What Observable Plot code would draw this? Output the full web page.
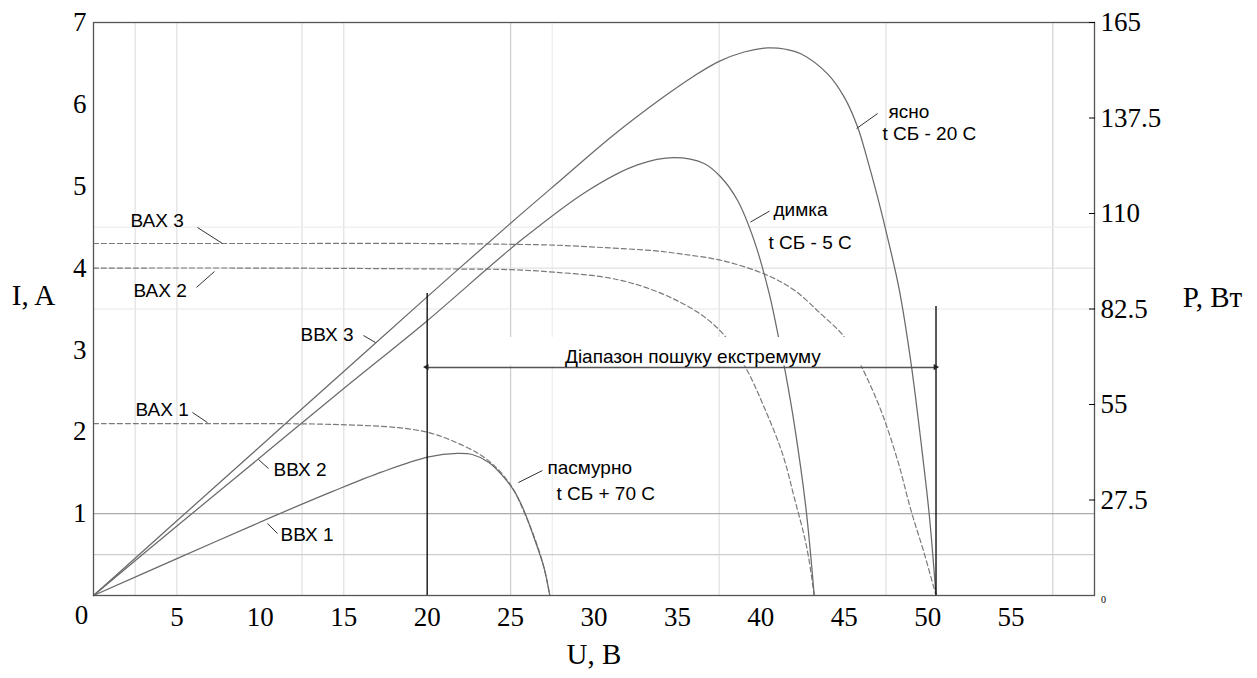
<!DOCTYPE html>
<html><head><meta charset="utf-8">
<script src="https://cdn.jsdelivr.net/npm/d3@7"></script>
<script src="https://cdn.jsdelivr.net/npm/@observablehq/plot@0.6"></script>
<style>body{margin:0;background:#fff} #chart{width:1257px;height:678px}</style>
</head><body><div id="chart"></div>
<script>
// ---- axes ----
const U_MAX = 60, I_MAX = 7, P_MAX = 165;
const xTicks = [0, 5, 10, 15, 20, 25, 30, 35, 40, 45, 50, 55];
const iTicks = [1, 2, 3, 4, 5, 6, 7];
const pTicks = [0, 27.5, 55, 82.5, 110, 137.5, 165];
const gridU = [2.5, 5, 12.5, 15, 25, 27.5, 37.5, 47.5, 57.5];
const gridUColor = ["#e2e2e2", "#e2e2e2", "#e2e2e2", "#e2e2e2", "#cfcfcf", "#eeeeee", "#e2e2e2", "#e2e2e2", "#d6d6d6"];
const gridI = [0.5, 1, 3.5, 4, 4.5];
const gridIColor = ["#cdcdcd", "#ababab", "#e8e8e8", "#e2e2e2", "#ededed"];

// ---- I-V curves (ВАХ), current in A ----
const vax1U = [0, 5, 10, 14.3, 18.3, 20.1, 21.5, 23.1, 24.1, 25.1, 25.85, 26.5, 27.0, 27.35];
const vax1I = [2.1, 2.1, 2.1, 2.09, 2.05, 1.99, 1.89, 1.73, 1.57, 1.32, 1.0, 0.67, 0.34, 0];
const vax2U = [0, 10, 20, 25.1, 27.6, 30.6, 32.7, 34.7, 36.5, 37.8, 39.1, 40.2, 41.3, 42.0, 42.75, 43.2];
const vax2I = [4.0, 4.0, 3.99, 3.98, 3.95, 3.89, 3.79, 3.63, 3.42, 3.18, 2.78, 2.30, 1.73, 1.20, 0.59, 0];
const vax3U = [0, 10, 20, 25.1, 27.6, 30.6, 33.7, 35.3, 37.7, 40.3, 42.0, 43.6, 45.0, 46.0, 47.2, 48.2, 49.0, 49.8, 50.5];
const vax3I = [4.3, 4.3, 4.3, 4.29, 4.28, 4.25, 4.21, 4.17, 4.09, 3.92, 3.73, 3.44, 3.16, 2.81, 2.26, 1.65, 1.04, 0.51, 0];

// ---- P-V curves (ВВХ), power in W ----
const vvx1U = [0, 5, 10.5, 14.3, 17.3, 20.1, 21.8, 22.7, 23.7, 24.5, 25.2, 25.8, 26.4, 27.0, 27.35];
const vvx1P = [0, 10.6, 22.2, 29.9, 35.6, 39.9, 40.9, 40.6, 38.3, 34.6, 30.2, 24.5, 16.7, 8.1, 0];
const vvx2U = [0, 5, 10, 15, 19.9, 25.6, 29.6, 32.6, 34.8, 36.6, 37.6, 38.6, 39.6, 40.5, 41.1, 41.5, 42.0, 42.7, 43.2];
const vvx2P = [0, 20, 39.8, 59.6, 78.7, 102.2, 116.5, 124.0, 126.1, 124.4, 120.5, 113.8, 102.2, 87.0, 73.4, 63.5, 49.5, 25.3, 0];
const vvx3U = [0, 5, 10, 15, 20, 25, 28.1, 31.1, 34.1, 36.0, 37.5, 39.0, 40.4, 41.5, 42.4, 44.0, 45.0, 45.8, 46.4, 47.0, 47.6, 48.3, 49.0, 49.6, 50.1, 50.5];
const vvx3P = [0, 21.5, 43, 64.5, 86, 107.2, 120.0, 132.3, 143.3, 149.6, 153.8, 156.5, 157.7, 157.3, 156.0, 150.2, 143.5, 134.9, 125.3, 114.7, 103.0, 88.0, 67.0, 44.2, 23.0, 0];

// ---- search range ----
const rangeU = [20, 50.5];
const rangeTopI = [3.69, 3.53];
const arrowI = 2.785;
const rangeLabel = "Діапазон пошуку екстремуму";
const rangeLabelPos = {U: 35.93, I: 2.914};
const maskBox = {U1: 20.8, U2: 47.2, I1: 2.805, I2: 3.152};

// ---- annotations (positions in U, I units) ----
const labelText = ["ВАХ 3", "ВАХ 2", "ВВХ 3", "ВАХ 1", "ВВХ 2", "ВВХ 1", "пасмурно", "t СБ + 70 С", "ясно", "t СБ - 20 С", "димка", "t СБ - 5 С"];
const labelU = [2.22, 2.40, 12.41, 2.52, 10.79, 11.21, 27.21, 27.75, 47.65, 47.29, 40.76, 40.46];
const labelI = [4.575, 3.72, 3.18, 2.266, 1.533, 0.745, 1.564, 1.24, 5.913, 5.638, 4.716, 4.306];
const leaderU1 = [6.23, 6.17, 16.18, 5.93, 9.89, 10.43, 25.47, 45.74, 39.38];
const leaderI1 = [4.496, 3.763, 3.176, 2.236, 1.661, 0.880, 1.380, 5.705, 4.562];
const leaderU2 = [7.73, 7.25, 16.90, 6.83, 10.49, 11.03, 26.91, 47.00, 40.52];
const leaderI2 = [4.30, 3.958, 3.091, 2.113, 1.551, 0.757, 1.527, 5.888, 4.696];

// ---- build tables ----
const toI = p => p * I_MAX / P_MAX;
const mk = (U, V) => U.map((u, i) => ({U: u, V: V[i]}));
const vax = [mk(vax1U, vax1I), mk(vax2U, vax2I), mk(vax3U, vax3I)];
const vvx = [mk(vvx1U, vvx1P), mk(vvx2U, vvx2P), mk(vvx3U, vvx3P)];
const labels = labelText.map((t, i) => ({t, U: labelU[i], I: labelI[i]}));
const leaders = leaderU1.map((u, i) => ({U1: u, I1: leaderI1[i], U2: leaderU2[i], I2: leaderI2[i]}));
const gridUData = gridU.map((u, i) => ({u, c: gridUColor[i]}));
const gridIData = gridI.map((v, i) => ({v, c: gridIColor[i]}));
const rangeData = rangeU.map((u, i) => ({U: u, top: rangeTopI[i], rot: i === 0 ? -90 : 90, dx: i === 0 ? 4.5 : -4.5}));

const SERIF = "Liberation Serif, Times New Roman, serif";
const SANS = "Liberation Sans, Arial, sans-serif";

const marks = [
  Plot.ruleX(gridUData, {x: "u", stroke: "c", strokeWidth: 1.3}),
  Plot.ruleY(gridIData, {y: "v", stroke: "c", strokeWidth: 1.2}),
];
vax.forEach(s => marks.push(Plot.line(s, {x: "U", y: "V", stroke: "#7a7a7a", strokeWidth: 1.2, strokeDasharray: "5,3", curve: "catmull-rom"})));
vvx.forEach(s => marks.push(Plot.line(s, {x: "U", y: d => toI(d.V), stroke: "#6a6a6a", strokeWidth: 1.25, curve: "catmull-rom"})));
marks.push(
  Plot.rect([maskBox], {x1: "U1", x2: "U2", y1: "I1", y2: "I2", fill: "white"}),
  Plot.ruleX(rangeData, {x: "U", y1: 0, y2: "top", stroke: "#000", strokeWidth: 1.3}),
  Plot.ruleY([arrowI], {x1: rangeU[0], x2: rangeU[1], stroke: "#555", strokeWidth: 1.5}),
  Plot.dot(rangeData, {x: "U", y: () => arrowI, symbol: "triangle2", rotate: "rot", r: 3, fill: "#222", dx: "dx"}),
  Plot.link(leaders, {x1: "U1", y1: "I1", x2: "U2", y2: "I2", stroke: "#333", strokeWidth: 1}),
  Plot.text(labels, {x: "U", y: "I", text: "t", textAnchor: "start", fontFamily: SANS, fontSize: 19, fill: "#000"}),
  Plot.text([rangeLabel], {x: () => rangeLabelPos.U, y: () => rangeLabelPos.I, text: d => d, fontFamily: SANS, fontSize: 19, fill: "#000"}),
  Plot.frame({stroke: "#555", strokeWidth: 1.3}),
  Plot.axisX(xTicks.slice(1), {tickSize: 0, tickPadding: 11, fontSize: 27, fontFamily: SERIF, label: null, tickFormat: d => String(d)}),
  Plot.text([xTicks[0]], {x: d => d, y: () => 0, text: d => String(d), dx: -12, dy: 20, fontSize: 27, fontFamily: SERIF}),
  Plot.axisY(iTicks, {anchor: "left", tickSize: 0, tickPadding: 7, fontSize: 27, fontFamily: SERIF, label: null, tickFormat: d => String(d)}),
  Plot.axisY(pTicks.slice(1).map(toI), {anchor: "right", tickSize: -6, tickPadding: 12, fontSize: 27, fontFamily: SERIF, label: null,
    tickFormat: d => String(+(d * P_MAX / I_MAX).toFixed(1))}),
  Plot.text([pTicks[0]], {x: () => U_MAX, y: d => toI(d), text: d => String(d), dx: 9, dy: 4, fontSize: 10, fontFamily: SERIF}),
  Plot.text(["I, A"], {frameAnchor: "left", dx: -60, dy: -13, text: d => d, textAnchor: "middle", fontSize: 29, fontFamily: SERIF}),
  Plot.text(["U, B"], {frameAnchor: "bottom", dx: 0, dy: 68, text: d => d, textAnchor: "middle", fontSize: 29, fontFamily: SERIF}),
  Plot.text(["P, Bт"], {frameAnchor: "right", dx: 118, dy: -11, text: d => d, textAnchor: "middle", fontSize: 29, fontFamily: SERIF})
);

const chart = Plot.plot({
  width: 1257, height: 678,
  marginLeft: 93, marginRight: 163, marginTop: 22, marginBottom: 83,
  x: {domain: [0, U_MAX]},
  y: {domain: [0, I_MAX]},
  style: {background: "#fff", color: "#000", fontFamily: SERIF},
  marks
});
document.getElementById("chart").append(chart);
</script>
</body></html>
